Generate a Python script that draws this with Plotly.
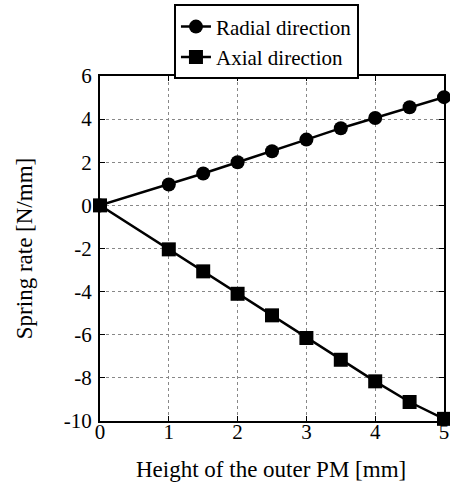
import plotly.graph_objects as go

height_mm = [0, 1, 1.5, 2, 2.5, 3, 3.5, 4, 4.5, 5]
radial = [0, 0.97, 1.48, 2.0, 2.51, 3.05, 3.58, 4.05, 4.55, 5.02]
axial = [0, -2.04, -3.06, -4.1, -5.1, -6.15, -7.16, -8.16, -9.12, -9.9]
x_ticks = [0, 1, 2, 3, 4, 5]
y_ticks = [-10, -8, -6, -4, -2, 0, 2, 4, 6]

FONT = "Liberation Serif"

fig = go.Figure()
fig.add_trace(go.Scatter(
    x=height_mm, y=radial, name="Radial direction", mode="lines+markers",
    line=dict(color="black", width=2.5),
    marker=dict(symbol="circle", size=14, color="black"),
    cliponaxis=False,
))
fig.add_trace(go.Scatter(
    x=height_mm, y=axial, name="Axial direction", mode="lines+markers",
    line=dict(color="black", width=2.5),
    marker=dict(symbol="square", size=14, color="black"),
    cliponaxis=False,
))

axis_common = dict(
    showline=True, linewidth=2, linecolor="black", mirror="ticks",
    ticks="inside", ticklen=5, tickwidth=1, tickcolor="black",
    showgrid=True, gridcolor="#888888", gridwidth=1, griddash="dot",
    zeroline=False, tickfont=dict(family=FONT, size=21, color="black"),
)

fig.update_xaxes(
    range=[0, 5], tickvals=x_ticks, ticktext=[str(v) for v in x_ticks],
    ticklabelstandoff=-9,
    **axis_common,
)
fig.update_yaxes(
    range=[-10, 6], tickvals=y_ticks, ticktext=[str(v) for v in y_ticks],
    ticklabelstandoff=2,
    title=dict(text="Spring rate [N/mm]", font=dict(family=FONT, size=23, color="black"), standoff=25),
    **axis_common,
)

fig.add_annotation(
    text="Height of the outer PM [mm]", xref="paper", yref="paper",
    x=0.497, y=-0.142, xanchor="center", yanchor="middle", showarrow=False,
    font=dict(family=FONT, size=23, color="black"),
)

fig.update_layout(
    width=450, height=483,
    margin=dict(l=100, r=6, t=76, b=62, autoexpand=False),
    paper_bgcolor="white", plot_bgcolor="white",
    font=dict(family=FONT, color="black"),
    showlegend=True,
    legend=dict(
        x=0.215, y=0.99, xref="paper", yref="paper", xanchor="left", yanchor="bottom",
        bgcolor="white", bordercolor="black", borderwidth=2,
        font=dict(family=FONT, size=21, color="black"),
        itemwidth=30, tracegroupgap=0,
    ),
)

fig.write_html("out.html")
